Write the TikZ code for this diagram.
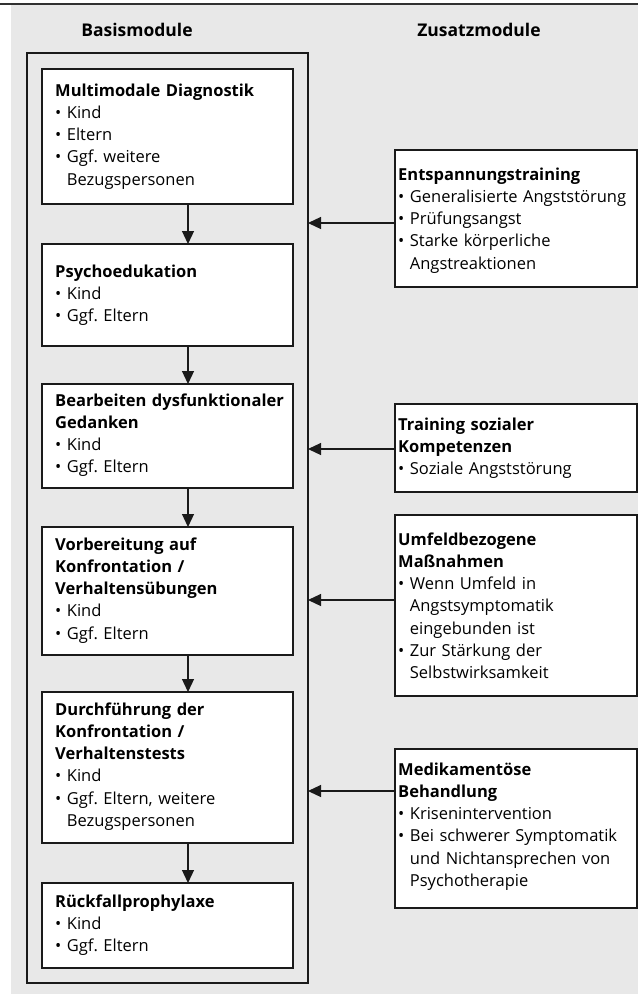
\documentclass[tikz,border=0pt]{standalone}
\usepackage{fontspec}
\setmainfont{Open Sans}
\usetikzlibrary{arrows.meta,calc}
\definecolor{bg}{HTML}{E8E8E8}
\definecolor{ln}{HTML}{1A1A1A}
\newcommand{\bl}{\textbullet\ }
\newcommand{\ind}{\phantom{\textbullet\ }}
\frenchspacing
\begin{document}
\begin{tikzpicture}[x=1pt,y=1pt,
 boxst/.style={draw=ln, line width=1.2pt, fill=white, anchor=north west, inner sep=0pt, outer sep=0pt},
 txt/.style={anchor=base west, inner sep=0pt, align=left, font=\fontsize{16.5}{22.3}\selectfont, text width=240pt},
 hd/.style={font=\fontsize{17.5}{20}\selectfont\bfseries, anchor=base, inner sep=0pt},
 arr/.style={draw=ln, line width=1.2pt, -{Triangle[length=13pt,width=12pt]}}]

\useasboundingbox (0,0) rectangle (638,-994);
\fill[bg] (11,-5) rectangle (638,-994);
\draw[color=ln!90, line width=2pt] (0,-4) -- (638,-4);

\node[hd] (h1) at (137,-36) {Basismodule};
\node[hd] (h2) at (479,-36) {Zusatzmodule};

\node[draw=ln, line width=1.2pt, anchor=north west, inner sep=0pt, outer sep=0pt, minimum width=281, minimum height=930] (outer) at (27,-53) {};

% left boxes
\node[boxst, minimum width=251, minimum height=135] (b1) at (42,-69) {};
\node[boxst, minimum width=251, minimum height=102] (b2) at (42,-244) {};
\node[boxst, minimum width=251, minimum height=104] (b3) at (42,-384) {};
\node[boxst, minimum width=251, minimum height=128] (b4) at (42,-527) {};
\node[boxst, minimum width=251, minimum height=151] (b5) at (42,-692) {};
\node[boxst, minimum width=251, minimum height=85] (b6) at (42,-883) {};

\node[txt] (t1) at (55,-96) {\textbf{Multimodale Diagnostik}\\\bl Kind\\\bl Eltern\\\bl Ggf. weitere\\\ind Bezugspersonen};
\node[txt] (t2) at (55,-277) {\textbf{Psychoedukation}\\\bl Kind\\\bl Ggf. Eltern};
\node[txt] (t3) at (55,-406) {\textbf{Bearbeiten dysfunktionaler}\\\textbf{Gedanken}\\\bl Kind\\\bl Ggf. Eltern};
\node[txt] (t4) at (55,-550) {\textbf{Vorbereitung auf}\\\textbf{Konfrontation /}\\\textbf{Verhaltensübungen}\\\bl Kind\\\bl Ggf. Eltern};
\node[txt] (t5) at (55,-715) {\textbf{Durchführung der}\\\textbf{Konfrontation /}\\\textbf{Verhaltenstests}\\\bl Kind\\\bl Ggf. Eltern, weitere\\\ind Bezugspersonen};
\node[txt] (t6) at (55,-907) {\textbf{Rückfallprophylaxe}\\\bl Kind\\\bl Ggf. Eltern};

\coordinate (ax) at (188,0);
\draw[arr] (b1.south -| ax) -- (b2.north -| ax);
\draw[arr] (b2.south -| ax) -- (b3.north -| ax);
\draw[arr] (b3.south -| ax) -- (b4.north -| ax);
\draw[arr] (b4.south -| ax) -- (b5.north -| ax);
\draw[arr] (b5.south -| ax) -- (b6.north -| ax);

% right boxes
\node[boxst, minimum width=242, minimum height=137] (r1) at (395,-150) {};
\node[boxst, minimum width=242, minimum height=88] (r2) at (395,-404) {};
\node[boxst, minimum width=242, minimum height=181] (r3) at (395,-515) {};
\node[boxst, minimum width=242, minimum height=159] (r4) at (395,-749) {};

\node[txt] (s1) at (398,-180) {\textbf{Entspannungstraining}\\\bl Generalisierte Angststörung\\\bl Prüfungsangst\\\bl Starke körperliche\\\ind Angstreaktionen};
\node[txt] (s2) at (398,-430) {\textbf{Training sozialer}\\\textbf{Kompetenzen}\\\bl Soziale Angststörung};
\node[txt] (s3) at (398,-545) {\textbf{Umfeldbezogene}\\\textbf{Maßnahmen}\\\bl Wenn Umfeld in\\\ind Angstsymptomatik\\\ind eingebunden ist\\\bl Zur Stärkung der\\\ind Selbstwirksamkeit};
\node[txt] (s4) at (398,-775) {\textbf{Medikamentöse}\\\textbf{Behandlung}\\\bl Krisenintervention\\\bl Bei schwerer Symptomatik\\\ind und Nichtansprechen von\\\ind Psychotherapie};

\coordinate (y1) at (0,-223);
\coordinate (y2) at (0,-449);
\coordinate (y3) at (0,-600);
\coordinate (y4) at (0,-791);
\draw[arr] (r1.west |- y1) -- (outer.east |- y1);
\draw[arr] (r2.west |- y2) -- (outer.east |- y2);
\draw[arr] (r3.west |- y3) -- (outer.east |- y3);
\draw[arr] (r4.west |- y4) -- (outer.east |- y4);
\end{tikzpicture}
\end{document}
